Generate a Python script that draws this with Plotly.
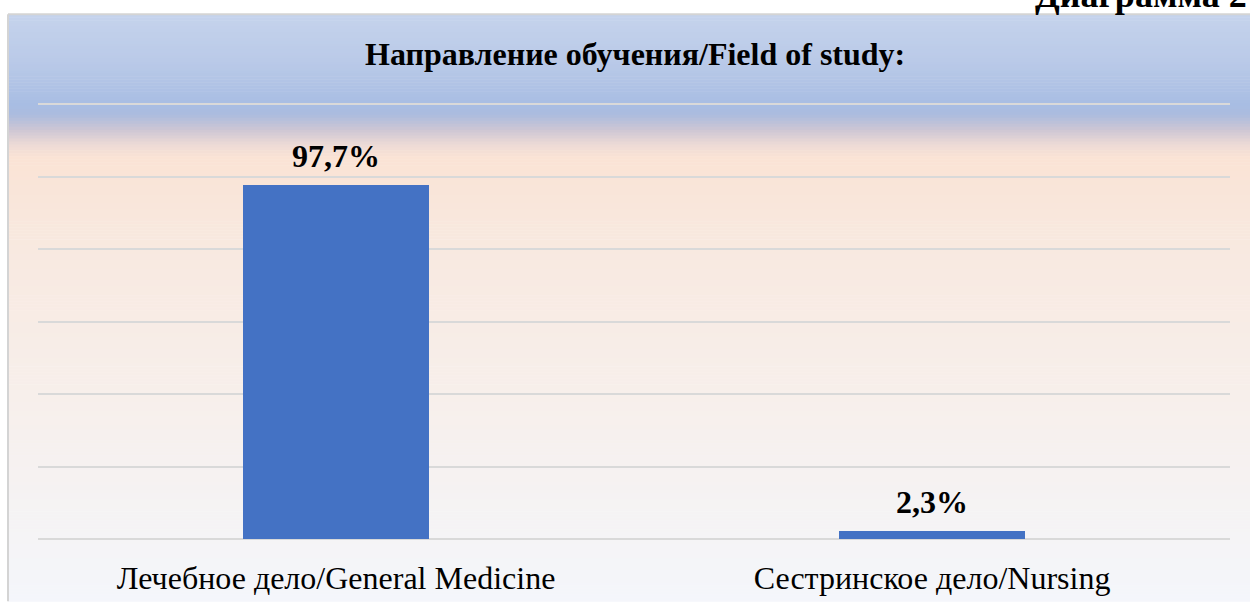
import plotly.graph_objects as go

categories = ["Лечебное дело/General Medicine", "Сестринское дело/Nursing"]
values = [97.7, 2.3]
labels = ["97,7%", "2,3%"]

W, H = 1250, 608
ML, MR, MT, MB = 38, 20, 103, 63
PW, PH = W - ML - MR, H - MT - MB


def px_x(x):
    return (x - ML) / PW


def px_y(y):
    return (H - MB - y) / PH


# background gradient stops (pixel y, rgb)
stops = [
    (13, (197, 211, 236)),
    (60, (186, 202, 232)),
    (105, (168, 189, 227)),
    (115, (172, 188, 222)),
    (130, (205, 198, 212)),
    (145, (236, 218, 214)),
    (158, (250, 227, 213)),
    (250, (248, 233, 224)),
    (400, (247, 239, 235)),
    (520, (245, 243, 244)),
    (608, (244, 246, 251)),
]


def color_at(y):
    for (y0, c0), (y1, c1) in zip(stops[:-1], stops[1:]):
        if y0 <= y <= y1:
            t = (y - y0) / (y1 - y0) if y1 > y0 else 0
            return "rgb(%d,%d,%d)" % tuple(round(a + (b - a) * t) for a, b in zip(c0, c1))
    return "rgb(%d,%d,%d)" % stops[-1][1]


shapes = []
step = 3
y = 13
while y < H:
    y2 = min(y + step, H)
    shapes.append(dict(
        type="rect", xref="paper", yref="paper", layer="below",
        x0=px_x(8), x1=px_x(W + 2), y0=px_y(y2 + 0.5), y1=px_y(y),
        fillcolor=color_at((y + y2) / 2), line=dict(width=0),
    ))
    y = y2

# frame border (left and top)
shapes.append(dict(type="line", xref="paper", yref="paper", layer="below",
                   x0=px_x(8), x1=px_x(8), y0=px_y(H), y1=px_y(13),
                   line=dict(color="#d4d4d4", width=2)))
shapes.append(dict(type="line", xref="paper", yref="paper", layer="below",
                   x0=px_x(8), x1=px_x(W), y0=px_y(13), y1=px_y(13),
                   line=dict(color="#d4d4d4", width=2)))

fig = go.Figure(go.Bar(
    x=categories, y=values, width=0.312,
    marker=dict(color="#4472c4", line=dict(width=0)),
    hoverinfo="skip",
))

annotations = []
for c, v, t in zip(categories, values, labels):
    annotations.append(dict(
        x=c, y=v, xref="x", yref="y", text="<b>%s</b>" % t, showarrow=False,
        yanchor="bottom", yshift=9,
        font=dict(family="Liberation Serif", size=32, color="#000000"),
    ))

annotations.append(dict(
    x=px_x(635), xref="paper", y=px_y(53), yref="paper",
    text="<b>Направление обучения/Field of study:</b>", showarrow=False,
    xanchor="center", yanchor="middle",
    font=dict(family="Liberation Serif", size=32, color="#000000"),
))
annotations.append(dict(
    x=px_x(1033), xref="paper", y=px_y(16), yref="paper",
    text="<b>Диаграмма 2</b>", showarrow=False,
    xanchor="left", yanchor="bottom",
    font=dict(family="Liberation Serif", size=36, color="#000000"),
))

fig.update_layout(
    width=W, height=H,
    margin=dict(l=ML, r=MR, t=MT, b=MB, pad=0),
    paper_bgcolor="white", plot_bgcolor="rgba(0,0,0,0)",
    shapes=shapes, annotations=annotations,
    showlegend=False, bargap=0,
    xaxis=dict(
        showgrid=False, zeroline=False, showline=False, ticks="",
        tickfont=dict(family="Liberation Serif", size=32, color="#000000"),
        ticklabelstandoff=17,
    ),
    yaxis=dict(
        range=[0, 120.3], tickvals=[20, 40, 60, 80, 100, 120], showticklabels=False,
        showgrid=True, gridcolor="#d9d9d9", gridwidth=2,
        zeroline=True, zerolinecolor="#d9d9d9", zerolinewidth=2,
        showline=False, ticks="",
    ),
)

fig.write_html("out.html", config={"displayModeBar": False},
               post_script="document.body.style.margin='0';")
